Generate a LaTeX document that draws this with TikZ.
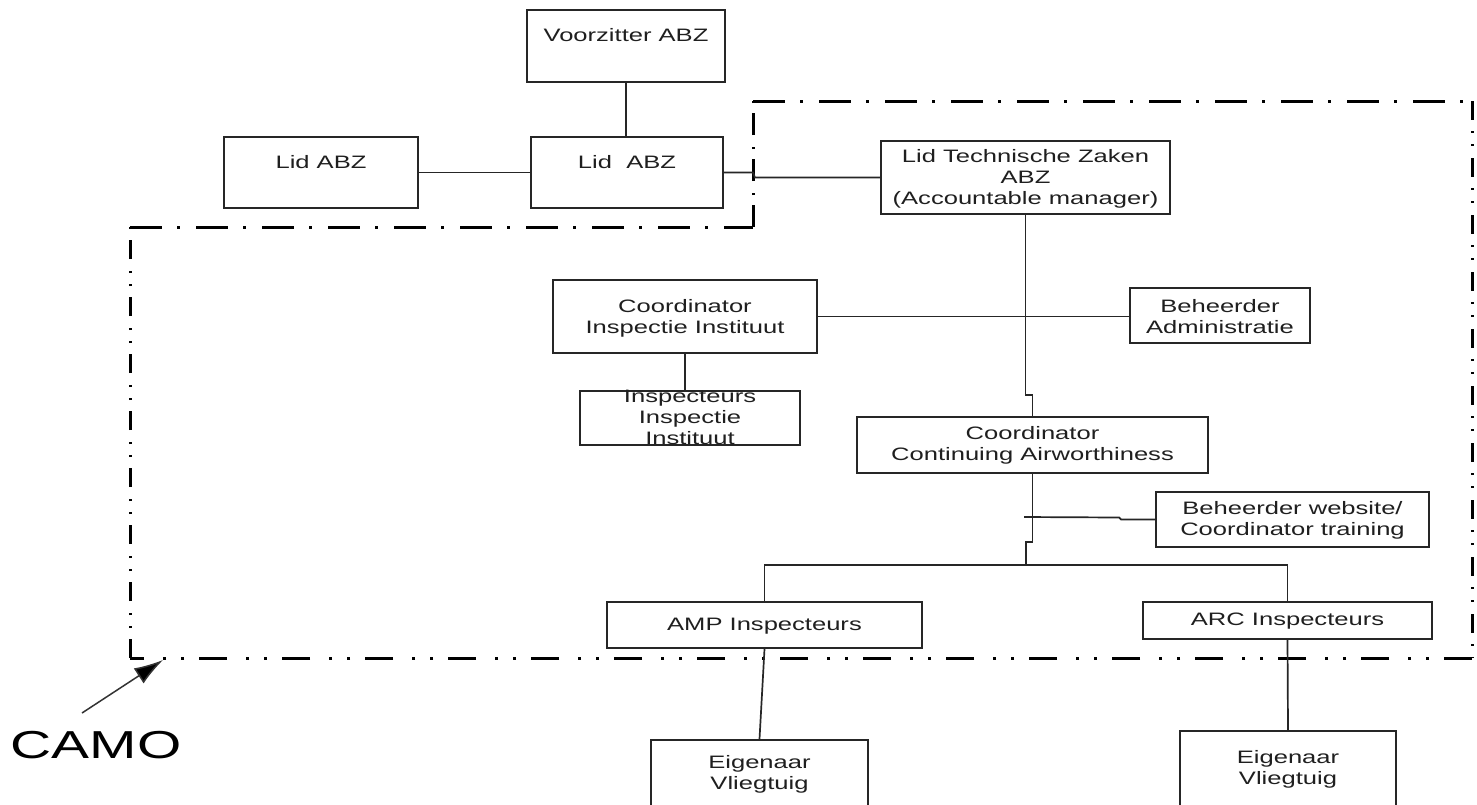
\documentclass[tikz,border=0pt]{standalone}
\usepackage{fontspec}
\setmainfont{Liberation Sans}[FakeStretch=1.42]
\newfontfamily\camofont{Liberation Sans}[FakeStretch=1.46]
\usetikzlibrary{arrows.meta}
\newcommand\tx[2]{\raisebox{#1pt}[0pt][0pt]{\begin{tabular}{@{}c@{}}#2\end{tabular}}}
\tikzset{
  bx/.style={draw=black!85, line width=1.9pt, inner sep=0pt, fill=white,
    font=\fontsize{18}{21}\selectfont, text=black!88},
  con/.style={draw=black!85, line width=1.7pt},
  bd/.style={draw=black, line width=3pt},
  dotH/.style={dash pattern=on 32pt off 15pt on 3pt off 16pt},
  dotV/.style={dash pattern=on 22pt off 10pt on 2pt off 12pt},
  ddotH/.style={dash pattern=on 28pt off 15pt on 3pt off 15pt on 3pt off 19pt},
  ddotV/.style={dash pattern=on 19pt off 11pt on 2pt off 11pt on 2pt off 12pt},
}
\begin{document}
\begin{tikzpicture}[x=1pt,y=-1pt]
\useasboundingbox (0,0) rectangle (1477,804);
\fill[white] (0,0) rectangle (1477,804);

% CAMO boundary
\draw[bd,dotH] (753,101) -- (1472,101);
\draw[bd,ddotV] (1472,101) -- (1472,658);
\draw[bd,ddotH] (1472,658) -- (130,658);
\draw[bd,ddotV] (130,658) -- (130,227);
\draw[bd,dotH] (130,227) -- (753,227);
\draw[bd,dotV] (753,227) -- (753,101);

% boxes
\node[bx,minimum width=198pt,minimum height=72pt] (voor) at (626,46) {\tx{4.2}{Voorzitter ABZ}};
\node[bx,minimum width=194pt,minimum height=71pt] (lidL) at (321,172.5) {\tx{3.7}{Lid ABZ}};
\node[bx,minimum width=192pt,minimum height=71pt] (lidM) at (627,172.5) {\tx{3.7}{Lid~ ABZ}};
\node[bx,minimum width=289pt,minimum height=73pt] (lidTZ) at (1025.5,177.5) {\tx{-5.8}{Lid Technische Zaken\\ABZ\\(Accountable manager)}};
\node[bx,minimum width=264pt,minimum height=73pt] (coordII) at (685,316.5) {\tx{-6.3}{Coordinator\\Inspectie Instituut}};
\node[bx,minimum width=220pt,minimum height=54pt] (insp) at (690,418) {\tx{-5.8}{Inspecteurs\\Inspectie\\Instituut}};
\node[bx,minimum width=180pt,minimum height=55pt] (behAdm) at (1220,315.5) {\tx{-7.3}{Beheerder\\Administratie}};
\node[bx,minimum width=351pt,minimum height=56pt] (coordCA) at (1032.5,445) {\tx{-4.8}{Coordinator\\Continuing Airworthiness}};
\node[bx,minimum width=273pt,minimum height=55pt] (behWeb) at (1292.5,519.5) {\tx{-5.3}{Beheerder website/\\Coordinator training}};
\node[bx,minimum width=315pt,minimum height=46pt] (amp) at (764.5,625) {\tx{-5.8}{AMP Inspecteurs}};
\node[bx,minimum width=289pt,minimum height=37pt] (arc) at (1287.5,620.5) {\tx{-5.3}{ARC Inspecteurs}};
\node[bx,minimum width=217pt,minimum height=72pt] (eigL) at (759.5,776) {\tx{-2.8}{Eigenaar\\Vliegtuig}};
\node[bx,minimum width=216pt,minimum height=81pt] (eigR) at (1288,771.5) {\tx{-2.3}{Eigenaar\\Vliegtuig}};

% connectors
\draw[con] (voor.south) -- (voor.south |- lidM.north);
\draw[con] (lidL.east) -- (lidM.west);
\draw[con] (lidM.east) -- ++(29,0) -- ++(2,5) -- (lidTZ.west);
\draw[con] (lidTZ.south) -- (lidTZ.south |- 0,395) -| (coordCA.north);
\draw[con] (coordII.east) -- (coordII.east -| behAdm.west);
\draw[con] (coordII.south) -- (coordII.south |- insp.north);
\draw[con] (coordCA.south) -- ++(0,68) -- ++(-6.5,0) -- ++(0,24);
\draw[con] (amp.north) -- (amp.north |- 0,565) -- (arc.north |- 0,565) -- (arc.north);
\coordinate (wj) at (1024,517);
\draw[con] (behWeb.west) -- ++(-34,0) -- ++(-2,-2) -- (wj);
\draw[con] (amp.south) -- (eigL.north);
\draw[con] (arc.south) -- (eigR.north);

% CAMO label and arrow
\node[font=\camofont\fontsize{39}{44}\selectfont, text=black, inner sep=0pt] (camo) at (96,745) {CAMO};
\coordinate (cst) at (82,713);
\coordinate (ctip) at (163,660);
\draw[draw=black!80, line width=1.5pt, -{Latex[length=29pt,width=18pt,fill=black]}] (cst) -- (ctip);
\end{tikzpicture}
\end{document}
